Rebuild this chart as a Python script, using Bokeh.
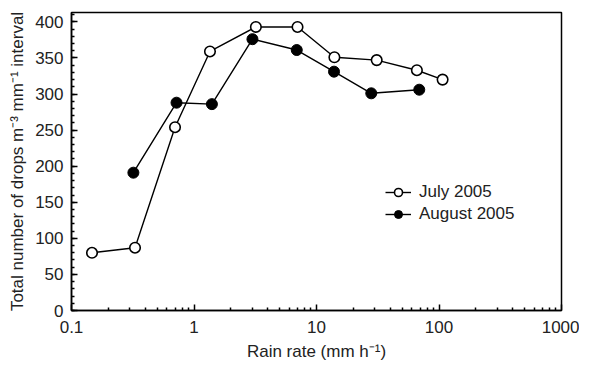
from bokeh.plotting import figure
from bokeh.models import FixedTicker, CustomJSTickFormatter, Range1d, Legend, LegendItem
from bokeh.embed import file_html
from bokeh.resources import INLINE

# Data
july_rate = [0.147, 0.33, 0.70, 1.35, 3.2, 7.0, 14.0, 31.0, 66.0, 107.0]
july_drops = [80, 87, 254, 359, 393, 393, 351, 347, 333, 320]
aug_rate = [0.32, 0.72, 1.4, 3.0, 6.9, 13.9, 28.0, 69.0]
aug_drops = [191, 288, 286, 376, 361, 331, 301, 306]

x_major = [0.1, 1, 10, 100, 1000]
x_minor = [m * d for d in [0.1, 1, 10, 100] for m in range(2, 10)]
y_major = list(range(0, 401, 50))
y_minor = list(range(0, 411, 10))

FONT = "Liberation Sans"
TXT = "#222222"

p = figure(width=579, height=364, x_axis_type="log",
           x_range=Range1d(0.1, 1000), y_range=Range1d(0, 413),
           output_backend="svg", toolbar_location=None,
           min_border_left=71, min_border_right=18, min_border_top=12, min_border_bottom=54)

p.xgrid.visible = False
p.ygrid.visible = False
p.outline_line_color = "black"
p.outline_line_width = 1.5

l1 = p.line(july_rate, july_drops, line_color="black", line_width=1.4)
s1 = p.scatter(july_rate, july_drops, marker="circle", size=10.5, fill_color="white",
               line_color="black", line_width=1.6)
l2 = p.line(aug_rate, aug_drops, line_color="black", line_width=1.4)
s2 = p.scatter(aug_rate, aug_drops, marker="circle", size=11, fill_color="black",
               line_color="black", line_width=1.0)

legend = Legend(items=[LegendItem(label="July 2005", renderers=[l1, s1]),
                       LegendItem(label="August 2005", renderers=[l2, s2])],
                location=(314, 86), padding=0, margin=0, spacing=2,
                glyph_width=26, glyph_height=20, label_standoff=8,
                border_line_color=None, background_fill_alpha=0,
                label_text_font=FONT, label_text_font_size="17px", label_text_color=TXT)
p.add_layout(legend)

xa = p.xaxis[0]
xa.ticker = FixedTicker(ticks=x_major, minor_ticks=x_minor)
xa.formatter = CustomJSTickFormatter(code="return tick < 1 ? tick.toFixed(1) : tick.toFixed(0);")
xa.axis_label = "Rain rate (mm h\u207b\u00b9)"

ya = p.yaxis[0]
ya.ticker = FixedTicker(ticks=y_major, minor_ticks=y_minor)
ya.axis_label = "Total number of drops m\u207b\u00b3 mm\u207b\u00b9 interval"

for ax in (xa, ya):
    ax.axis_line_color = "black"
    ax.axis_line_width = 1.5
    ax.major_tick_in = 6
    ax.major_tick_out = 0
    ax.minor_tick_in = 3
    ax.minor_tick_out = 0
    ax.major_tick_line_width = 1.5
    ax.minor_tick_line_width = 1.5
    ax.major_label_text_font = FONT
    ax.major_label_text_font_size = "17px"
    ax.major_label_text_color = TXT
    ax.axis_label_text_font = FONT
    ax.axis_label_text_font_size = "17px"
    ax.axis_label_text_font_style = "normal"
    ax.axis_label_text_color = TXT

xa.major_label_standoff = 10
xa.axis_label_standoff = 6
ya.major_label_standoff = 8
ya.axis_label_standoff = 5

open("out.html", "w").write(file_html(p, INLINE))
